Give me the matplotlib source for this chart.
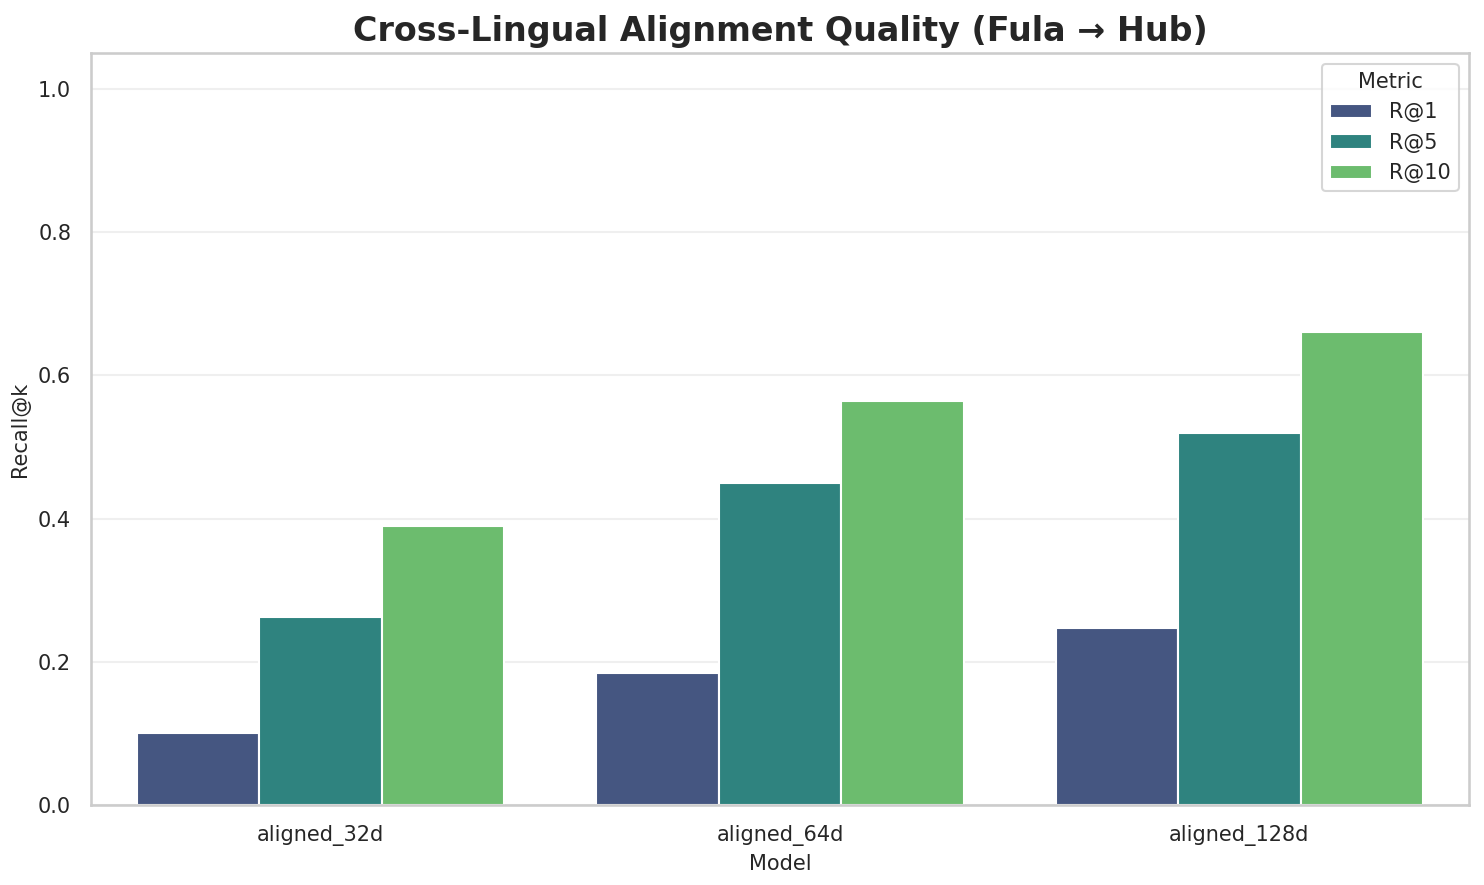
import matplotlib
matplotlib.use("Agg")
import matplotlib.pyplot as plt
import pandas as pd
import seaborn as sns

models = ["aligned_32d", "aligned_64d", "aligned_128d"]
metrics = ["R@1", "R@5", "R@10"]
r_at_1 = [0.100, 0.184, 0.247]
r_at_5 = [0.262, 0.449, 0.520]
r_at_10 = [0.389, 0.564, 0.661]

rows = []
for m, a, b, c in zip(models, r_at_1, r_at_5, r_at_10):
    rows += [(m, "R@1", a), (m, "R@5", b), (m, "R@10", c)]
df = pd.DataFrame(rows, columns=["Model", "Metric", "Recall@k"])

sns.set_theme(style="whitegrid")
plt.rcParams.update({"axes.labelsize": 10, "xtick.labelsize": 10,
                     "ytick.labelsize": 10, "legend.fontsize": 10,
                     "legend.title_fontsize": 10})
fig, ax = plt.subplots(figsize=(1484 / 150, 885 / 150), dpi=150)
sns.barplot(data=df, x="Model", y="Recall@k", hue="Metric", hue_order=metrics,
            palette="viridis", ax=ax)
ax.set_ylim(0, 1.05)
ax.set_title("Cross-Lingual Alignment Quality (Fula \u2192 Hub)",
             fontsize=16, fontweight="bold")
ax.set_xlabel("Model")
ax.set_ylabel("Recall@k")
ax.grid(axis="y", alpha=0.3)
ax.legend(title="Metric", loc="upper right")
fig.subplots_adjust(left=0.0613, right=0.9899, top=0.940, bottom=0.0904)
plt.savefig("out.png", dpi=150)
plt.close()
